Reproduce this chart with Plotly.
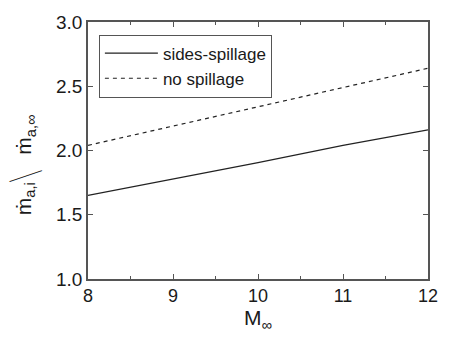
import plotly.graph_objects as go

mach = [8, 9, 10, 11, 12]
sides_spillage = [1.65, 1.775, 1.905, 2.04, 2.16]
no_spillage = [2.04, 2.19, 2.345, 2.49, 2.64]

font = "Liberation Sans, Arial, sans-serif"
axcol = "#555555"
txtcol = "#1a1a1a"

fig = go.Figure()
fig.add_trace(go.Scatter(x=mach, y=sides_spillage, mode="lines", name="sides-spillage",
                         line=dict(color="#222222", width=1.2)))
fig.add_trace(go.Scatter(x=mach, y=no_spillage, mode="lines", name="no spillage",
                         line=dict(color="#222222", width=1.2, dash="4px,4px")))

common = dict(showline=True, linecolor=axcol, linewidth=1.5, mirror="ticks",
              ticks="inside", ticklen=5, tickcolor=axcol, tickwidth=1,
              showgrid=False, zeroline=False)

fig.update_xaxes(range=[8, 12], dtick=1, tickformat="d",
                 tickfont=dict(family=font, size=18, color=txtcol),
                 minor=dict(ticks="inside", dtick=0.5, ticklen=3, tickcolor=axcol),
                 title=dict(text="M<sub>∞</sub>", font=dict(family=font, size=21, color=txtcol), standoff=3),
                 **common)
fig.update_yaxes(range=[1.0, 3.0], dtick=0.5, tickformat=".1f",
                 tickfont=dict(family=font, size=19, color=txtcol),
                 **common)

# y-axis label pieces: ṁ_a,i  /  ṁ_a,∞
ylab_font = dict(family=font, size=21, color=txtcol)
fig.add_annotation(text="ṁ<sub>a,i</sub>", xref="paper", yref="paper",
                   x=-0.1855, y=0.314, xanchor="center", yanchor="middle",
                   textangle=-90, showarrow=False, font=ylab_font)
fig.add_annotation(text="/", xref="paper", yref="paper",
                   x=-0.18, y=0.405, xanchor="center", yanchor="middle",
                   textangle=56, showarrow=False,
                   font=dict(family="Inter, Lato, Roboto, sans-serif", size=38, color=txtcol, weight=100))
fig.add_annotation(text="ṁ<sub>a,∞</sub>", xref="paper", yref="paper",
                   x=-0.1855, y=0.561, xanchor="center", yanchor="middle",
                   textangle=-90, showarrow=False, font=ylab_font)

fig.update_layout(
    width=450, height=340,
    margin=dict(l=88, r=17, t=15, b=61),
    plot_bgcolor="white", paper_bgcolor="white",
    showlegend=True,
    legend=dict(x=0.032, y=0.951, xanchor="left", yanchor="top",
                bordercolor=axcol, borderwidth=1, bgcolor="white",
                font=dict(family=font, size=17, color=txtcol),
                tracegroupgap=0, itemwidth=53, entrywidth=126),
)

fig.write_html("out.html")
